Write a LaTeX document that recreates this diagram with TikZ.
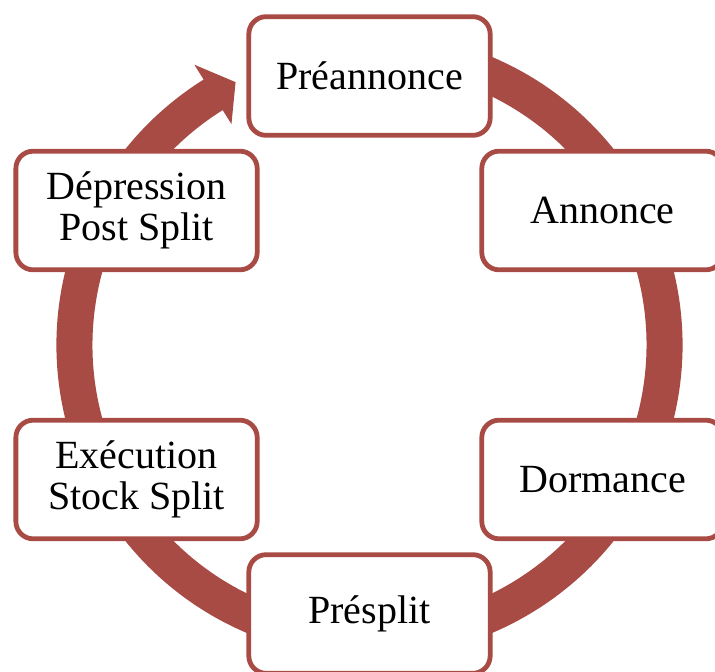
\documentclass[tikz,border=0pt]{standalone}
\usepackage{fontspec}
\setmainfont{Liberation Serif}
\usepackage{tikz}
\usetikzlibrary{positioning}

\definecolor{cyclered}{RGB}{168,75,68}

\begin{document}
\begin{tikzpicture}[x=0.75pt, y=0.75pt,
    phase/.style={draw=cyclered, line width=3.6pt, fill=white, rounded corners=13pt,
        minimum width=181pt, minimum height=89pt, align=center,
        font=\fontsize{30pt}{31pt}\selectfont}]

    \useasboundingbox (-369.5,-327) rectangle (345.5,345);

    % Cycle arrow first (background)
    \fill[cyclered] (70:313) arc[start angle=70, end angle=-238, radius=313]
        -- (122:330.5) -- (117:295) -- (122:260.5) -- (122:277)
        arc[start angle=122, end angle=430, radius=277] -- cycle;

    % Phases on top
    \node[phase] (preannonce) at (90:269) {Préannonce};
    \node[phase] (annonce) at (30:269) {Annonce};
    \node[phase] (dormance) at (-30:269) {Dormance};
    \node[phase] (presplit) at (-90:269) {Présplit};
    \node[phase] (execution) at (-150:269) {Exécution\\Stock Split};
    \node[phase] (depression) at (150:269) {Dépression\\Post Split};

\end{tikzpicture}
\end{document}
